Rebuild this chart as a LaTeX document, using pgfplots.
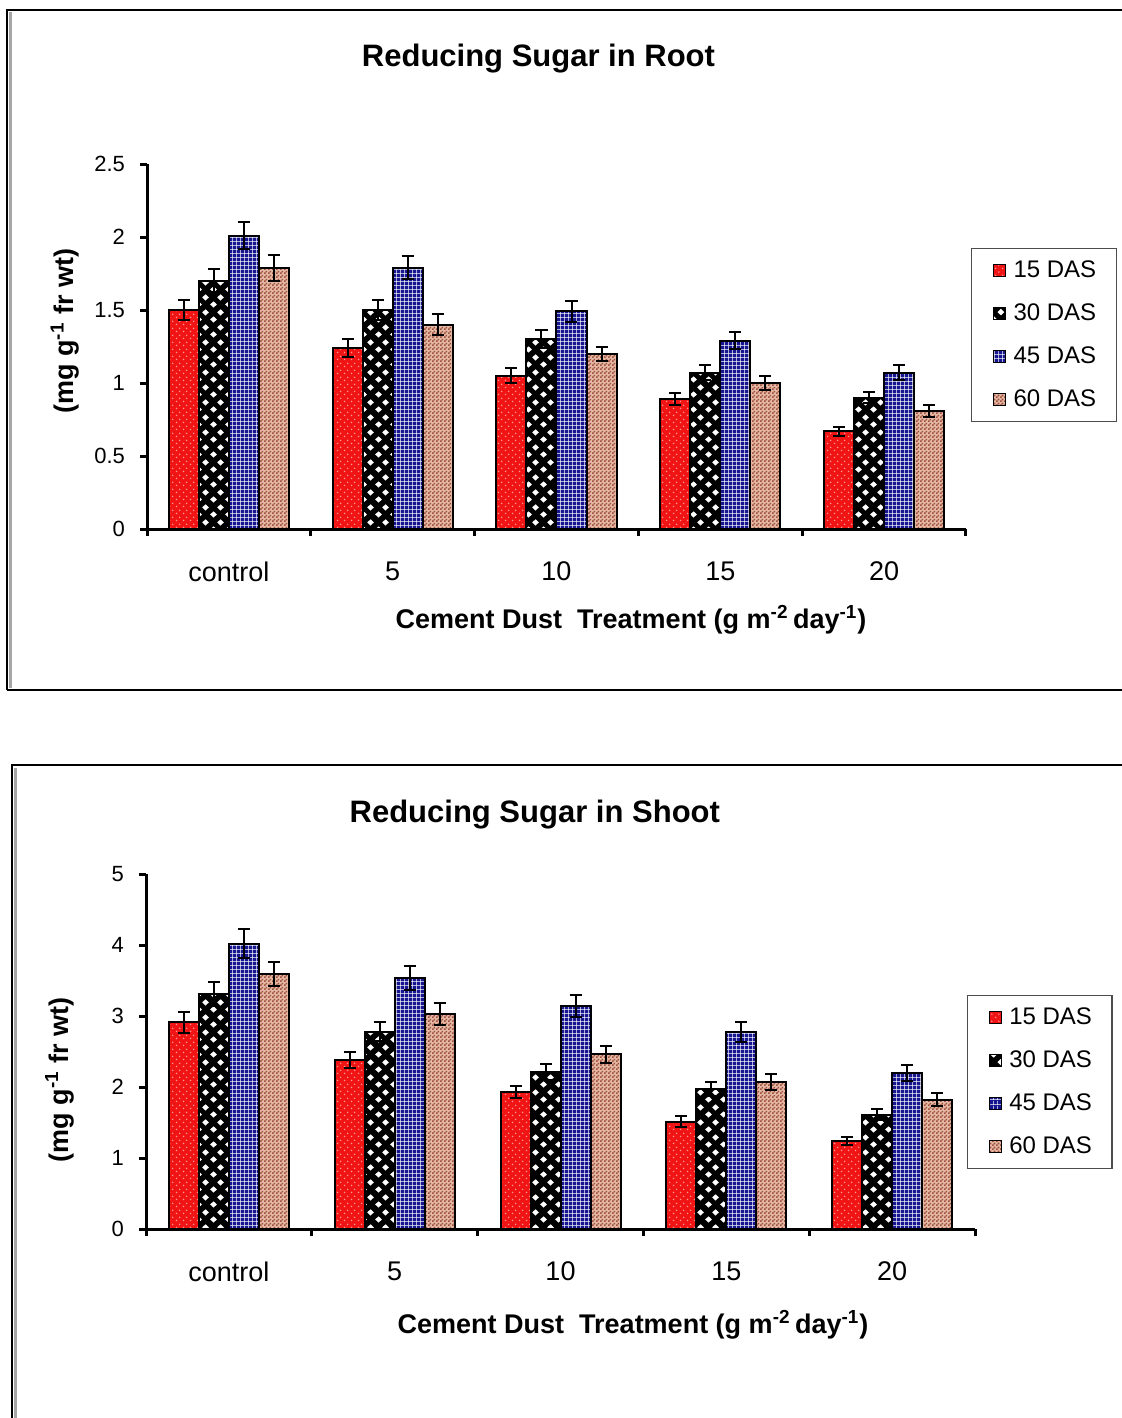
\documentclass[border=0pt]{standalone}
\usepackage{pgfplots}
\pgfplotsset{compat=1.18}
\usepackage{pgfplotstable}
\usepackage{fontspec}
\setmainfont{Liberation Sans}
\usetikzlibrary{patterns}

% ---------- patterns ----------
\pgfdeclarepatternformonly{reddots}{\pgfqpoint{0pt}{0pt}}{\pgfqpoint{3.5pt}{3.5pt}}{\pgfqpoint{3.5pt}{3.5pt}}{%
  \pgfpathcircle{\pgfqpoint{0.875pt}{0.875pt}}{0.45pt}%
  \pgfpathcircle{\pgfqpoint{2.625pt}{2.625pt}}{0.45pt}%
  \pgfusepath{fill}}
\pgfdeclarepatternformonly{diamonds}{\pgfqpoint{0pt}{0pt}}{\pgfqpoint{7.5pt}{7.5pt}}{\pgfqpoint{7.5pt}{7.5pt}}{%
  \pgfpathmoveto{\pgfqpoint{0.1pt}{1.875pt}}%
  \pgfpathlineto{\pgfqpoint{1.875pt}{3.55pt}}%
  \pgfpathlineto{\pgfqpoint{3.65pt}{1.875pt}}%
  \pgfpathlineto{\pgfqpoint{1.875pt}{0.2pt}}%
  \pgfpathclose
  \pgfpathmoveto{\pgfqpoint{3.85pt}{5.625pt}}%
  \pgfpathlineto{\pgfqpoint{5.625pt}{7.3pt}}%
  \pgfpathlineto{\pgfqpoint{7.4pt}{5.625pt}}%
  \pgfpathlineto{\pgfqpoint{5.625pt}{3.95pt}}%
  \pgfpathclose
  \pgfusepath{fill}}
\pgfdeclarepatternformonly{fgrid}{\pgfqpoint{0pt}{0pt}}{\pgfqpoint{2.2pt}{2.2pt}}{\pgfqpoint{2.2pt}{2.2pt}}{%
  \pgfpathrectangle{\pgfqpoint{0pt}{0pt}}{\pgfqpoint{2.2pt}{0.4pt}}%
  \pgfpathrectangle{\pgfqpoint{0pt}{0pt}}{\pgfqpoint{0.4pt}{2.2pt}}%
  \pgfusepath{fill}}
\pgfdeclarepatternformonly{fchecker}{\pgfqpoint{0pt}{0pt}}{\pgfqpoint{2pt}{2pt}}{\pgfqpoint{2pt}{2pt}}{%
  \pgfpathrectangle{\pgfqpoint{0pt}{0pt}}{\pgfqpoint{1pt}{1pt}}%
  \pgfpathrectangle{\pgfqpoint{1pt}{1pt}}{\pgfqpoint{1pt}{1pt}}%
  \pgfusepath{fill}}

\definecolor{barred}{RGB}{240,20,20}
\definecolor{redlight}{RGB}{255,150,150}
\definecolor{barblue}{RGB}{22,22,145}
\definecolor{bartan}{RGB}{158,78,58}
\definecolor{tanbase}{RGB}{228,185,165}

% ---------- data ----------
\pgfplotstableread{
x y e
0 1.50 0.07
1 1.24 0.06
2 1.05 0.05
3 0.89 0.04
4 0.67 0.03
}\rootA
\pgfplotstableread{
x y e
0 1.70 0.08
1 1.50 0.07
2 1.30 0.06
3 1.07 0.05
4 0.90 0.04
}\rootB
\pgfplotstableread{
x y e
0 2.01 0.09
1 1.79 0.08
2 1.49 0.07
3 1.29 0.06
4 1.07 0.05
}\rootC
\pgfplotstableread{
x y e
0 1.79 0.09
1 1.40 0.07
2 1.20 0.05
3 1.00 0.05
4 0.81 0.04
}\rootD
\pgfplotstableread{
x y e
0 2.91 0.15
1 2.38 0.11
2 1.93 0.09
3 1.51 0.08
4 1.24 0.06
}\shootA
\pgfplotstableread{
x y e
0 3.31 0.17
1 2.78 0.13
2 2.21 0.11
3 1.97 0.10
4 1.61 0.08
}\shootB
\pgfplotstableread{
x y e
0 4.02 0.20
1 3.53 0.17
2 3.14 0.16
3 2.77 0.14
4 2.20 0.11
}\shootC
\pgfplotstableread{
x y e
0 3.59 0.17
1 3.03 0.15
2 2.46 0.12
3 2.07 0.11
4 1.82 0.09
}\shootD

\pgfplotsset{
  das15/.style={fill=barred, draw=black, line width=1pt, postaction={pattern=reddots, pattern color=redlight}},
  das30/.style={fill=black, draw=black, line width=1pt, postaction={pattern=diamonds, pattern color=white}},
  das45/.style={fill=barblue, draw=black, line width=1pt, postaction={pattern=fgrid, pattern color=white}},
  das60/.style={fill=tanbase, draw=black, line width=1pt, postaction={pattern=fchecker, pattern color=bartan}},
  sugar/.style={
    scale only axis,
    ybar=0pt, bar width=15pt,
    axis lines*=left,
    axis line style={line width=1.5pt, black},
    xmin=-0.5, xmax=4.5,
    xtick={-0.5,0.5,...,4.5}, xticklabels={},
    extra x ticks={0,1,2,3,4},
    extra x tick labels={control,5,10,15,20},
    extra x tick style={major tick length=0pt},
    tick align=outside, major tick length=3.5pt,
    tick style={line width=1.5pt, black},
    ymin=0,
    /pgf/number format/assume math mode=true,
    yticklabel style={font=\fontsize{11}{13}\selectfont, xshift=-4pt},
    xticklabel style={font=\fontsize{13.5}{16}\selectfont, yshift=-13pt},
    xlabel={\textbf{Cement Dust\ \ Treatment (g m\textsuperscript{-2}\,day\textsuperscript{-1})}},
    ylabel={\textbf{(mg g\textsuperscript{-1} fr wt)}},
    label style={font=\fontsize{13.5}{16}\selectfont},
    title style={font=\bfseries\fontsize{15.5}{18}\selectfont},
    legend cell align=left,
    legend style={font=\fontsize{12}{14}\selectfont, draw=black!70, line width=0.6pt,
      inner xsep=8pt, inner ysep=4pt, row sep=7.6pt},
    legend image code/.code={\path (0pt,0pt); \draw[#1, line width=0.5pt] (2.5pt,-3pt) rectangle (8.5pt,3pt); \path (10pt,0pt);},
    error bars/y dir=both, error bars/y explicit,
    error bars/error bar style={line width=1pt, black},
    error bars/error mark options={rotate=90, line width=1pt, black, mark size=3pt},
  }
}

\begin{document}
\begin{tikzpicture}
\useasboundingbox (0pt,0pt) rectangle (561pt,-709pt);
% frames
\draw[black!35, line width=1.3pt] (5.2pt,-6pt) -- (5.2pt,-344pt);
\draw[black, line width=1pt] (3.5pt,-345pt) -- (3.5pt,-5pt) -- (562pt,-5pt);
\draw[black, line width=1pt] (3.5pt,-345pt) -- (562pt,-345pt);
\draw[black!35, line width=1.3pt] (7.7pt,-384pt) -- (7.7pt,-712pt);
\draw[black, line width=1pt] (6pt,-712pt) -- (6pt,-382.5pt) -- (562pt,-382.5pt);

% ---------- Root ----------
\begin{axis}[sugar,
  at={(73.5pt,-264.5pt)}, anchor=south west,
  width=409.5pt, height=182.5pt,
  ymax=2.5, ytick={0,0.5,1,1.5,2,2.5},
  title={Reducing Sugar in Root},
  title style={at={(axis description cs:0.478,1.255)}, anchor=center},
  xlabel style={at={(axis description cs:0.591,-0.249)}, anchor=center},
  ylabel style={at={(axis description cs:-0.100,0.542)}, anchor=center},
  legend style={at={(axis description cs:1.006,0.770)}, anchor=north west},
]
\addplot[das15] table[x=x, y=y, y error=e] {\rootA};
\addplot[das30] table[x=x, y=y, y error=e] {\rootB};
\addplot[das45] table[x=x, y=y, y error=e] {\rootC};
\addplot[das60] table[x=x, y=y, y error=e] {\rootD};
\legend{15 DAS,30 DAS,45 DAS,60 DAS}
\end{axis}

% ---------- Shoot ----------
\begin{axis}[sugar,
  at={(73pt,-614.5pt)}, anchor=south west,
  width=414.5pt, height=177.5pt,
  ymax=5, ytick={0,1,2,3,4,5},
  title={Reducing Sugar in Shoot},
  title style={at={(axis description cs:0.469,1.133)}, anchor=center},
  xlabel style={at={(axis description cs:0.5875,-0.270)}, anchor=center},
  ylabel style={at={(axis description cs:-0.104,0.42)}, anchor=center},
  legend style={at={(axis description cs:0.990,0.659)}, anchor=north west},
]
\addplot[das15] table[x=x, y=y, y error=e] {\shootA};
\addplot[das30] table[x=x, y=y, y error=e] {\shootB};
\addplot[das45] table[x=x, y=y, y error=e] {\shootC};
\addplot[das60] table[x=x, y=y, y error=e] {\shootD};
\legend{15 DAS,30 DAS,45 DAS,60 DAS}
\end{axis}
\end{tikzpicture}
\end{document}
